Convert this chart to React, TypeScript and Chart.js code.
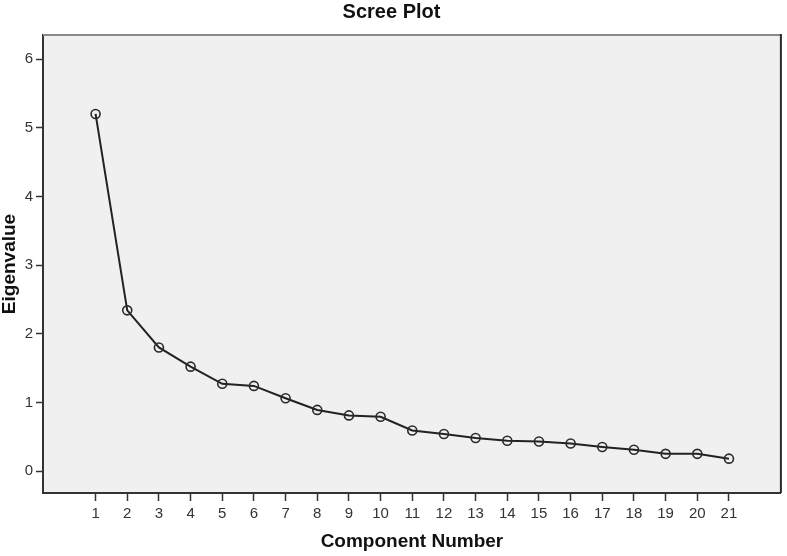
import React, { useEffect, useRef } from "react";
import { Chart, registerables } from "chart.js";

Chart.register(...registerables);

const componentNumbers = [1, 2, 3, 4, 5, 6, 7, 8, 9, 10, 11, 12, 13, 14, 15, 16, 17, 18, 19, 20, 21];
const eigenvalues = [5.2, 2.34, 1.8, 1.52, 1.27, 1.24, 1.06, 0.89, 0.81, 0.79, 0.59, 0.54, 0.48, 0.44, 0.43, 0.4, 0.35, 0.31, 0.25, 0.25, 0.18];
const yTickValues = [0, 1, 2, 3, 4, 5, 6];
const xTickValues = componentNumbers;

const chartTitle = "Scree Plot";
const xTitle = "Component Number";
const yTitle = "Eigenvalue";

const FONT = "'Liberation Sans', Arial, sans-serif";

const framePlugin = {
  id: "frame",
  beforeDraw(chart: any) {
    const { ctx, chartArea } = chart;
    const { left, top, right, bottom } = chartArea;
    ctx.save();
    ctx.fillStyle = "#f0f0f0";
    ctx.fillRect(left, top, right - left, bottom - top);
    ctx.restore();
  },
  afterDraw(chart: any) {
    const { ctx, chartArea } = chart;
    const { left, top, right, bottom } = chartArea;
    ctx.save();
    ctx.lineWidth = 2;
    ctx.strokeStyle = "#8a8a8a";
    ctx.beginPath();
    ctx.moveTo(left, top);
    ctx.lineTo(right, top);
    ctx.stroke();
    ctx.strokeStyle = "#2a2a2a";
    ctx.beginPath();
    ctx.moveTo(right, top - 1);
    ctx.lineTo(right, bottom);
    ctx.stroke();
    ctx.restore();
  },
};

export default function App() {
  const ref = useRef<HTMLCanvasElement | null>(null);

  useEffect(() => {
    if (!ref.current) return;
    const chart = new Chart(ref.current, {
      type: "line",
      data: {
        datasets: [
          {
            data: componentNumbers.map((c, i) => ({ x: c, y: eigenvalues[i] })),
            borderColor: "#222222",
            borderWidth: 2,
            tension: 0,
            pointRadius: 4.5,
            pointBorderWidth: 1.6,
            pointBorderColor: "#2a2a2a",
            pointBackgroundColor: "rgba(0,0,0,0)",
            fill: false,
          },
        ],
      },
      options: {
        responsive: false,
        animation: false,
        devicePixelRatio: 1,
        layout: { padding: { top: 0, right: 4, left: 0, bottom: 0 } },
        plugins: {
          legend: { display: false },
          tooltip: { enabled: false },
          title: {
            display: true,
            text: chartTitle,
            color: "#111111",
            font: { family: FONT, size: 20, weight: "bold", lineHeight: 1 },
            padding: { top: 2, bottom: 13 },
          },
        },
        scales: {
          x: {
            type: "linear",
            min: -0.66,
            max: 22.64,
            afterFit: (s: any) => {
              s.height = 63;
            },
            afterBuildTicks: (s: any) => {
              s.ticks = xTickValues.map((v) => ({ value: v }));
            },
            grid: {
              drawOnChartArea: false,
              drawTicks: true,
              tickLength: 8,
              tickWidth: 1.5,
              tickColor: "#333333",
            },
            border: { display: true, color: "#333333", width: 2 },
            ticks: {
              autoSkip: false,
              maxRotation: 0,
              padding: 4,
              color: "#333333",
              font: { family: FONT, size: 15 },
            },
            title: {
              display: true,
              text: xTitle,
              color: "#111111",
              font: { family: FONT, size: 19, weight: "bold", lineHeight: 1 },
              padding: { top: 0, bottom: 5 },
            },
          },
          y: {
            type: "linear",
            min: -0.32,
            max: 6.35,
            afterFit: (s: any) => {
              s.width = 43;
            },
            afterBuildTicks: (s: any) => {
              s.ticks = yTickValues.map((v) => ({ value: v }));
            },
            grid: {
              drawOnChartArea: false,
              drawTicks: true,
              tickLength: 7,
              tickWidth: 1.5,
              tickColor: "#333333",
            },
            border: { display: true, color: "#333333", width: 2 },
            ticks: {
              padding: 3,
              color: "#333333",
              font: { family: FONT, size: 15 },
            },
            title: {
              display: true,
              text: yTitle,
              color: "#111111",
              font: { family: FONT, size: 19, weight: "bold", lineHeight: 1 },
              padding: { top: 0, bottom: 0 },
            },
          },
        },
      },
      plugins: [framePlugin],
    });
    return () => chart.destroy();
  }, []);

  return (
    <div style={{ position: "absolute", left: 0, top: 0, width: 787, height: 556, background: "#ffffff" }}>
      <canvas ref={ref} width={787} height={556} style={{ display: "block" }} />
    </div>
  );
}
